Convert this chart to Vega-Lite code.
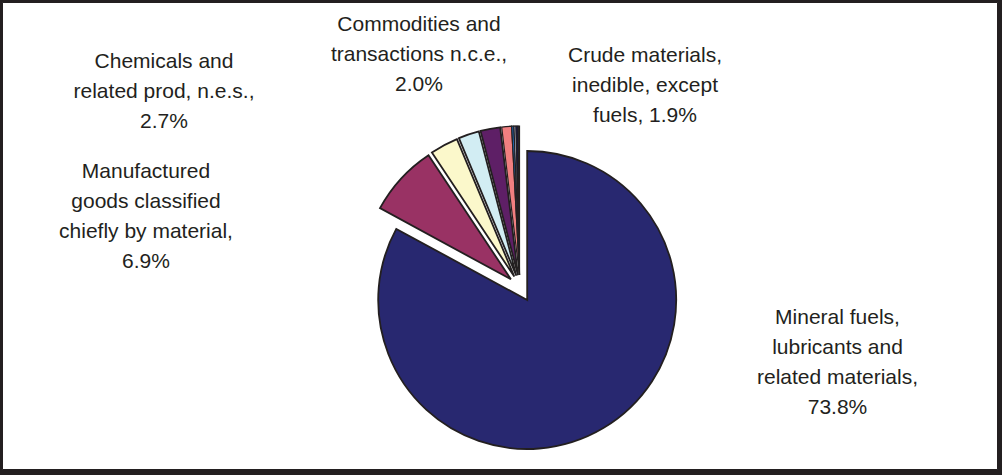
{
  "$schema": "https://vega.github.io/schema/vega-lite/v6.json",
  "autosize": "none",
  "width": 995,
  "height": 467,
  "padding": {"left": 2, "top": 2, "right": 5, "bottom": 6},
  "background": "#231f20",
  "view": {"fill": "white", "stroke": "#231f20", "strokeWidth": 1},
  "data": {
    "values": [
      {"name": "Mineral fuels, lubricants and related materials", "value": 73.8, "lines": ["Mineral fuels,", "lubricants and", "related materials,", "73.8%"]},
      {"name": "Manufactured goods classified chiefly by material", "value": 6.9, "lines": ["Manufactured", "goods classified", "chiefly by material,", "6.9%"]},
      {"name": "Chemicals and related prod, n.e.s.", "value": 2.7, "lines": ["Chemicals and", "related prod, n.e.s.,", "2.7%"]},
      {"name": "Commodities and transactions n.c.e.", "value": 2.0, "lines": ["Commodities and", "transactions n.c.e.,", "2.0%"]},
      {"name": "Crude materials, inedible, except fuels", "value": 1.9, "lines": ["Crude materials,", "inedible, except", "fuels, 1.9%"]},
      {"name": "Machinery and transport equipment", "value": 0.95},
      {"name": "Miscellaneous manufactured articles", "value": 0.22},
      {"name": "Food and live animals", "value": 0.2},
      {"name": "Beverages and tobacco", "value": 0.18},
      {"name": "Animal and vegetable oils, fats and waxes", "value": 0.15}
    ]
  },
  "transform": [
    {"stack": "value", "groupby": [], "as": ["s0", "s1"], "offset": "normalize"}
  ],
  "layer": [
    {
      "encoding": {
        "theta": {"field": "s0", "type": "quantitative", "scale": {"domain": [0, 1], "range": [0, 6.283185307]}},
        "theta2": {"field": "s1"},
        "color": {
          "field": "name",
          "type": "nominal",
          "legend": null,
          "scale": {
            "domain": [
              "Mineral fuels, lubricants and related materials",
              "Manufactured goods classified chiefly by material",
              "Chemicals and related prod, n.e.s.",
              "Commodities and transactions n.c.e.",
              "Crude materials, inedible, except fuels",
              "Machinery and transport equipment",
              "Miscellaneous manufactured articles",
              "Food and live animals",
              "Beverages and tobacco",
              "Animal and vegetable oils, fats and waxes"
            ],
            "range": ["#282870", "#993264", "#fbf8cb", "#d2edf3", "#5e1f66", "#f07f80", "#1f6ec0", "#c9ccee", "#000080", "#333333"]
          }
        }
      },
      "layer": [
        {
          "transform": [{"filter": {"field": "name", "equal": "Mineral fuels, lubricants and related materials"}}],
          "mark": {"type": "arc", "radius": 149, "stroke": "#231f20", "strokeWidth": 1.8, "xOffset": 27.7, "yOffset": 64.5}
        },
        {
          "transform": [{"filter": {"field": "name", "equal": "Manufactured goods classified chiefly by material"}}],
          "mark": {"type": "arc", "radius": 149, "stroke": "#231f20", "strokeWidth": 1.8, "xOffset": 11.4, "yOffset": 43.8}
        },
        {
          "transform": [{"filter": {"field": "name", "equal": "Chemicals and related prod, n.e.s."}}],
          "mark": {"type": "arc", "radius": 149, "stroke": "#231f20", "strokeWidth": 1.8, "xOffset": 14.8, "yOffset": 41.1}
        },
        {
          "transform": [{"filter": {"field": "name", "equal": "Commodities and transactions n.c.e."}}],
          "mark": {"type": "arc", "radius": 149, "stroke": "#231f20", "strokeWidth": 1.8, "xOffset": 16.8, "yOffset": 40.2}
        },
        {
          "transform": [{"filter": {"field": "name", "equal": "Crude materials, inedible, except fuels"}}],
          "mark": {"type": "arc", "radius": 149, "stroke": "#231f20", "strokeWidth": 1.8, "xOffset": 18.5, "yOffset": 39.7}
        },
        {
          "transform": [{"filter": {"field": "name", "oneOf": ["Machinery and transport equipment", "Miscellaneous manufactured articles", "Food and live animals", "Beverages and tobacco", "Animal and vegetable oils, fats and waxes"]}}],
          "mark": {"type": "arc", "radius": 149, "stroke": "#231f20", "strokeWidth": 1.2, "xOffset": 20, "yOffset": 39.5}
        }
      ]
    },
    {
      "encoding": {"text": {"field": "lines", "type": "nominal"}},
      "layer": [
        {
          "transform": [{"filter": {"field": "name", "equal": "Mineral fuels, lubricants and related materials"}}],
          "mark": {"type": "text", "font": "Liberation Sans", "fontSize": 21, "lineHeight": 30, "align": "center", "baseline": "middle", "color": "#231f20", "dx": 338, "dy": 82.7}
        },
        {
          "transform": [{"filter": {"field": "name", "equal": "Manufactured goods classified chiefly by material"}}],
          "mark": {"type": "text", "font": "Liberation Sans", "fontSize": 21, "lineHeight": 30, "align": "center", "baseline": "middle", "color": "#231f20", "dx": -353.5, "dy": -63.5}
        },
        {
          "transform": [{"filter": {"field": "name", "equal": "Chemicals and related prod, n.e.s."}}],
          "mark": {"type": "text", "font": "Liberation Sans", "fontSize": 21, "lineHeight": 30, "align": "center", "baseline": "middle", "color": "#231f20", "dx": -335.5, "dy": -173.3}
        },
        {
          "transform": [{"filter": {"field": "name", "equal": "Commodities and transactions n.c.e."}}],
          "mark": {"type": "text", "font": "Liberation Sans", "fontSize": 21, "lineHeight": 30, "align": "center", "baseline": "middle", "color": "#231f20", "dx": -80.5, "dy": -210.8}
        },
        {
          "transform": [{"filter": {"field": "name", "equal": "Crude materials, inedible, except fuels"}}],
          "mark": {"type": "text", "font": "Liberation Sans", "fontSize": 21, "lineHeight": 30, "align": "center", "baseline": "middle", "color": "#231f20", "dx": 145.5, "dy": -180}
        }
      ]
    }
  ]
}
